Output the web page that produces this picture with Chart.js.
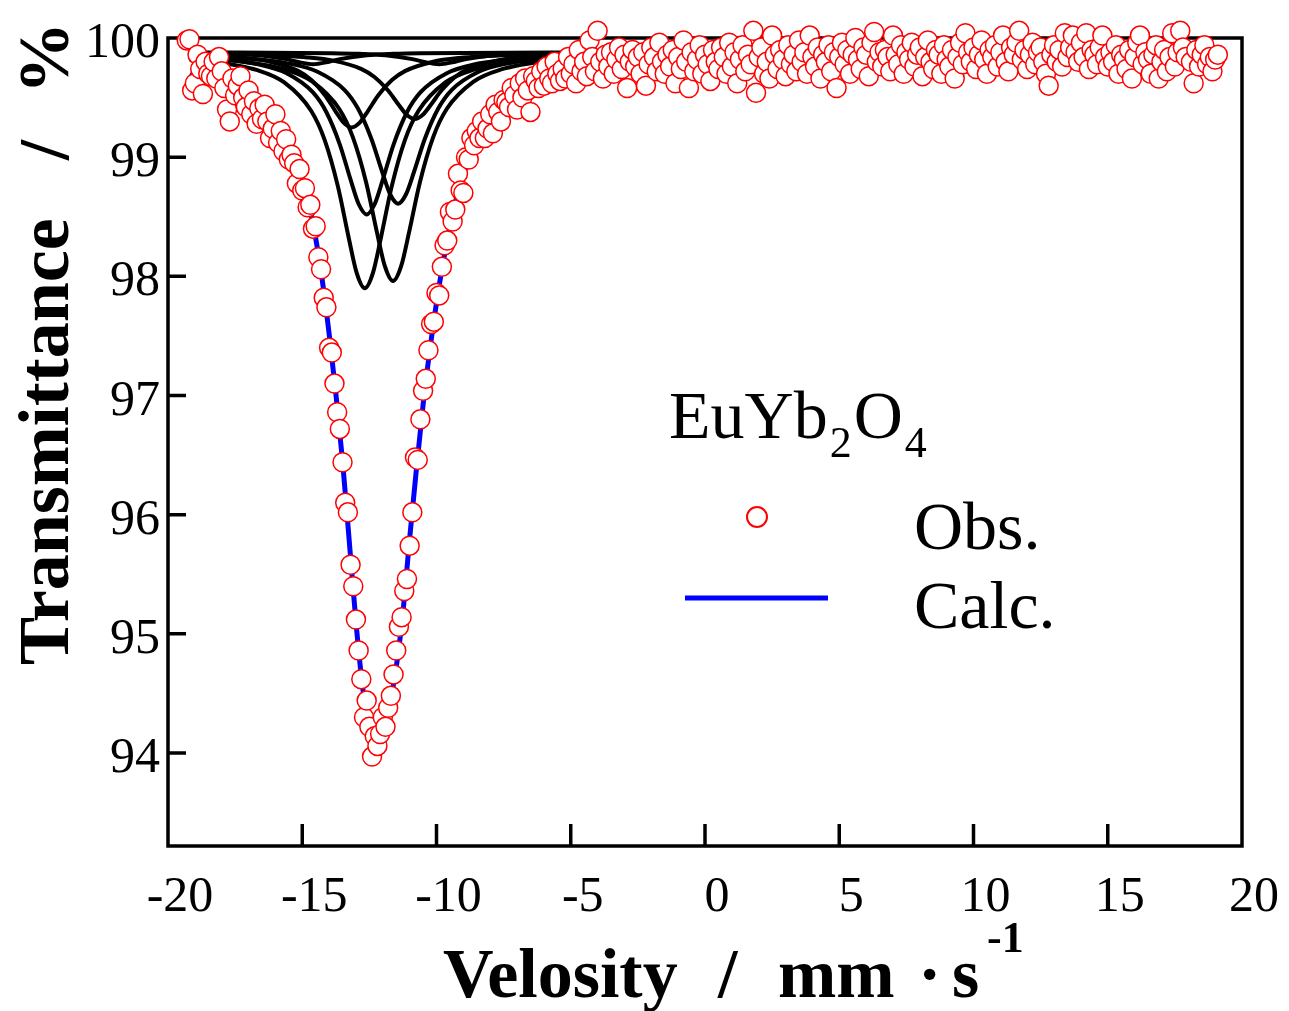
<!DOCTYPE html>
<html>
<head>
<meta charset="utf-8">
<script src="https://cdn.jsdelivr.net/npm/chart.js@4.4.1/dist/chart.umd.min.js"></script>
<style>
html,body{margin:0;padding:0;background:#fff;overflow:hidden;}
#wrap{width:1289px;height:1011px;position:relative;}
</style>
</head>
<body>
<div id="wrap"><canvas id="c"></canvas></div>
<script>
// ---------- tick labels ----------
const xTicks = [-20,-15,-10,-5,0,5,10,15,20];
const yTicks = [94,95,96,97,98,99,100];

// ---------- observed spectrum (velocity mm/s, transmittance %) ----------
const velocity = [
-19.3,-19.2,-19.1,-19.0,-18.9,-18.8,-18.7,-18.6,-18.5,-18.4,
-18.3,-18.2,-18.1,-18.0,-17.9,-17.8,-17.7,-17.6,-17.5,-17.4,
-17.3,-17.2,-17.1,-17.0,-16.9,-16.8,-16.7,-16.6,-16.5,-16.4,
-16.3,-16.2,-16.1,-16.0,-15.9,-15.8,-15.7,-15.6,-15.5,-15.4,
-15.3,-15.2,-15.1,-15.0,-14.9,-14.8,-14.7,-14.6,-14.5,-14.4,
-14.3,-14.2,-14.1,-14.0,-13.9,-13.8,-13.7,-13.6,-13.5,-13.4,
-13.3,-13.2,-13.1,-13.0,-12.9,-12.8,-12.7,-12.6,-12.5,-12.4,
-12.3,-12.2,-12.1,-12.0,-11.9,-11.8,-11.7,-11.6,-11.5,-11.4,
-11.3,-11.2,-11.1,-11.0,-10.9,-10.8,-10.7,-10.6,-10.5,-10.4,
-10.3,-10.2,-10.1,-10.0,-9.9,-9.8,-9.7,-9.6,-9.5,-9.4,
-9.3,-9.2,-9.1,-9.0,-8.9,-8.8,-8.7,-8.6,-8.5,-8.4,
-8.3,-8.2,-8.1,-8.0,-7.9,-7.8,-7.7,-7.6,-7.5,-7.4,
-7.3,-7.2,-7.1,-7.0,-6.9,-6.8,-6.7,-6.6,-6.5,-6.4,
-6.3,-6.2,-6.1,-6.0,-5.9,-5.8,-5.7,-5.6,-5.5,-5.4,
-5.3,-5.2,-5.1,-5.0,-4.9,-4.8,-4.7,-4.6,-4.5,-4.4,
-4.3,-4.2,-4.1,-4.0,-3.9,-3.8,-3.7,-3.6,-3.5,-3.4,
-3.3,-3.2,-3.1,-3.0,-2.9,-2.8,-2.7,-2.6,-2.5,-2.4,
-2.3,-2.2,-2.1,-2.0,-1.9,-1.8,-1.7,-1.6,-1.5,-1.4,
-1.3,-1.2,-1.1,-1.0,-0.9,-0.8,-0.7,-0.6,-0.5,-0.4,
-0.3,-0.2,-0.1,0.0,0.1,0.2,0.3,0.4,0.5,0.6,
0.7,0.8,0.9,1.0,1.1,1.2,1.3,1.4,1.5,1.6,
1.7,1.8,1.9,2.0,2.1,2.2,2.3,2.4,2.5,2.6,
2.7,2.8,2.9,3.0,3.1,3.2,3.3,3.4,3.5,3.6,
3.7,3.8,3.9,4.0,4.1,4.2,4.3,4.4,4.5,4.6,
4.7,4.8,4.9,5.0,5.1,5.2,5.3,5.4,5.5,5.6,
5.7,5.8,5.9,6.0,6.1,6.2,6.3,6.4,6.5,6.6,
6.7,6.8,6.9,7.0,7.1,7.2,7.3,7.4,7.5,7.6,
7.7,7.8,7.9,8.0,8.1,8.2,8.3,8.4,8.5,8.6,
8.7,8.8,8.9,9.0,9.1,9.2,9.3,9.4,9.5,9.6,
9.7,9.8,9.9,10.0,10.1,10.2,10.3,10.4,10.5,10.6,
10.7,10.8,10.9,11.0,11.1,11.2,11.3,11.4,11.5,11.6,
11.7,11.8,11.9,12.0,12.1,12.2,12.3,12.4,12.5,12.6,
12.7,12.8,12.9,13.0,13.1,13.2,13.3,13.4,13.5,13.6,
13.7,13.8,13.9,14.0,14.1,14.2,14.3,14.4,14.5,14.6,
14.7,14.8,14.9,15.0,15.1,15.2,15.3,15.4,15.5,15.6,
15.7,15.8,15.9,16.0,16.1,16.2,16.3,16.4,16.5,16.6,
16.7,16.8,16.9,17.0,17.1,17.2,17.3,17.4,17.5,17.6,
17.7,17.8,17.9,18.0,18.1,18.2,18.3,18.4,18.5,18.6,
18.7,18.8,18.9,19.0,19.1
];
const obsT = [
99.98,99.99,99.56,99.62,99.86,99.74,99.53,99.80,99.70,99.68,
99.80,99.66,99.84,99.72,99.58,99.40,99.30,99.66,99.52,99.60,
99.68,99.50,99.42,99.56,99.36,99.47,99.28,99.41,99.32,99.44,
99.30,99.16,99.24,99.36,99.12,99.22,99.05,99.15,98.98,99.02,
98.95,98.78,98.90,98.72,98.74,98.58,98.60,98.40,98.42,98.16,
98.06,97.82,97.74,97.40,97.36,97.10,96.86,96.72,96.44,96.10,
96.02,95.58,95.40,95.12,94.86,94.62,94.30,94.44,94.22,93.97,
94.14,94.06,94.16,94.30,94.22,94.38,94.48,94.66,94.86,95.06,
95.14,95.36,95.46,95.74,96.02,96.48,96.46,96.80,97.04,97.14,
97.38,97.60,97.62,97.86,97.84,98.08,98.26,98.30,98.54,98.46,
98.56,98.86,98.72,98.70,99.00,98.98,99.16,99.10,99.22,99.16,
99.30,99.16,99.24,99.36,99.20,99.44,99.38,99.30,99.48,99.46,
99.42,99.58,99.52,99.40,99.62,99.50,99.66,99.56,99.38,99.68,
99.64,99.58,99.72,99.60,99.76,99.66,99.62,99.80,99.70,99.64,
99.74,99.66,99.84,99.70,99.78,99.62,99.90,99.72,99.80,99.68,
99.98,99.84,99.72,100.06,99.80,99.66,99.86,99.76,99.88,99.70,
99.82,99.92,99.74,99.86,99.58,99.80,99.90,99.76,99.84,99.70,
99.88,99.60,99.78,99.92,99.84,99.72,99.96,99.80,99.70,99.86,
99.76,99.90,99.62,99.84,99.74,99.98,99.80,99.58,99.88,99.72,
99.82,99.94,99.70,99.86,99.78,99.64,99.90,99.80,99.74,99.92,
99.84,99.70,99.96,99.76,99.88,99.62,99.82,99.94,99.72,99.86,
99.78,100.06,99.54,99.84,99.92,99.70,99.80,99.66,100.02,99.86,
99.74,99.90,99.82,99.68,99.94,99.78,99.86,99.72,99.98,99.80,
99.88,99.70,100.02,99.84,99.76,99.92,99.66,99.86,99.80,99.94,
99.72,99.88,99.58,99.84,99.96,99.78,99.90,99.70,99.86,100.00,
99.82,99.74,99.92,99.86,99.68,99.96,100.05,99.80,99.88,99.76,
99.90,99.84,99.72,100.02,99.86,99.78,99.94,99.70,99.88,99.82,
99.96,99.76,99.86,99.92,99.68,99.84,99.98,99.80,99.74,99.90,
99.86,99.70,99.94,99.82,99.76,99.90,99.66,99.84,99.96,99.78,
100.04,99.88,99.80,99.92,99.74,99.86,99.98,99.82,99.70,99.90,
99.84,99.94,99.76,99.88,100.02,99.80,99.72,99.92,99.86,99.96,
100.06,99.82,99.90,99.74,99.86,99.96,99.78,99.88,99.92,99.80,
99.70,99.60,99.86,99.94,99.80,99.90,99.76,100.04,99.84,99.92,
100.02,99.88,99.80,99.96,99.84,100.04,99.74,99.90,99.86,99.78,
99.92,100.02,99.84,99.76,99.88,99.80,99.94,99.70,99.86,99.82,
99.74,99.90,99.66,99.84,99.96,100.02,99.78,99.88,99.82,99.70,
99.86,99.94,99.66,99.80,99.90,99.72,99.84,100.04,99.76,99.88,
100.06,99.92,99.84,100.10,99.80,99.62,99.90,99.76,99.86,99.94,
99.78,99.84,99.72,99.82,99.86
];

// ---------- calculated total curve ----------
const calcV = [-19.2,-18.5,-18,-17.5,-17,-16.5,-16,-15.5,-15.25,-15,-14.75,-14.5,-14.25,-14,-13.75,-13.5,-13.25,-13,-12.75,-12.5,-12.25,-12,-11.75,-11.5,-11.25,-11,-10.75,-10.5,-10.25,-10,-9.75,-9.5,-9.25,-9,-8.5,-8,-7.5,-7,-6.5,-6,-5,-4,-3,-2,0,3,6,10,14,19.1];
const calcT = [99.69,99.63,99.58,99.52,99.45,99.36,99.24,99.06,98.95,98.80,98.60,98.32,97.96,97.52,97.02,96.45,95.78,95.10,94.55,94.20,94.08,94.18,94.40,94.72,95.18,95.80,96.38,96.92,97.38,97.78,98.12,98.42,98.66,98.86,99.10,99.28,99.42,99.52,99.59,99.64,99.71,99.75,99.78,99.80,99.82,99.84,99.855,99.87,99.875,99.88];

// ---------- sub-spectra (fit components) ----------
const comp1V = [-19.2,-18.67,-16.67,-15.67,-14.67,-14.17,-13.67,-13.27,-12.97,-12.67,-12.37,-12.07,-11.67,-11.17,-10.67,-9.67,-8.67,-6.67,-3.45];
const comp1T = [99.82,99.811,99.73,99.627,99.389,99.147,98.753,98.324,98.027,97.90,98.027,98.324,98.753,99.147,99.389,99.627,99.73,99.811,99.849];
const comp2V = [-19.2,-17.62,-15.62,-14.62,-13.62,-13.12,-12.62,-12.22,-11.92,-11.62,-11.32,-11.02,-10.62,-10.12,-9.62,-8.62,-7.62,-5.62,-3.45];
const comp2T = [99.84,99.813,99.734,99.634,99.404,99.17,98.788,98.371,98.083,97.96,98.083,98.371,98.788,99.17,99.404,99.634,99.734,99.813,99.842];
const comp3V = [-19.2,-18.6,-16.6,-15.6,-14.6,-14.1,-13.6,-13.2,-12.9,-12.6,-12.3,-12.0,-11.6,-11.1,-10.6,-9.6,-8.6,-6.6,-3.45];
const comp3T = [99.842,99.832,99.777,99.706,99.543,99.377,99.106,98.811,98.607,98.52,98.607,98.811,99.106,99.377,99.543,99.706,99.777,99.832,99.859];
const comp4V = [-19.2,-17.43,-15.43,-14.43,-13.43,-12.93,-12.43,-12.03,-11.73,-11.43,-11.13,-10.83,-10.43,-9.93,-9.43,-8.43,-7.43,-5.43,-3.45];
const comp4T = [99.853,99.836,99.783,99.717,99.565,99.41,99.157,98.882,98.691,98.61,98.691,98.882,99.157,99.41,99.565,99.717,99.783,99.836,99.854];
const comp5V = [-19.2,-17.16,-16.16,-15.16,-14.66,-14.16,-13.76,-13.46,-13.16,-12.86,-12.56,-12.16,-11.66,-11.16,-10.16,-9.16,-7.16,-3.45];
const comp5T = [99.858,99.832,99.799,99.724,99.647,99.522,99.385,99.29,99.25,99.29,99.385,99.522,99.647,99.724,99.799,99.832,99.858,99.871];
const comp6V = [-19.2,-16.81,-14.81,-13.81,-12.81,-12.31,-11.81,-11.41,-11.11,-10.81,-10.51,-10.21,-9.81,-9.31,-8.81,-7.81,-6.81,-4.81,-3.45];
const comp6T = [99.869,99.86,99.837,99.808,99.741,99.673,99.561,99.44,99.356,99.32,99.356,99.44,99.561,99.673,99.741,99.808,99.837,99.86,99.866];
const comp7V = [-19.2,-17.6,-16.6,-15.6,-15.2,-14.6,-14.0,-13.6,-12.6,-11.6,-10.6,-3.45];
const comp7T = [99.874,99.867,99.855,99.823,99.801,99.78,99.801,99.823,99.855,99.867,99.872,99.879];
const comp8V = [-19.2,-13.9,-12.9,-11.9,-10.9,-10.5,-9.9,-9.3,-8.9,-7.9,-6.9,-5.9,-3.45];
const comp8T = [99.879,99.872,99.867,99.855,99.823,99.801,99.78,99.801,99.823,99.855,99.867,99.872,99.877];

const components = [[comp1V,comp1T],[comp2V,comp2T],[comp3V,comp3T],[comp4V,comp4T],[comp5V,comp5T],[comp6V,comp6T],[comp7V,comp7T],[comp8V,comp8T]];

const pts = (xs, ys) => xs.map((x, i) => ({x: x, y: ys[i]}));
const SERIF = '"Liberation Serif", "Times New Roman", serif';

const datasets = [
  {
    label: 'Obs.',
    data: pts(velocity, obsT),
    showLine: false,
    pointRadius: 9.5,
    pointBorderWidth: 1.5,
    pointBorderColor: '#ff0000',
    pointBackgroundColor: '#ffffff',
    clip: false,
    order: 0
  },
  {
    label: 'Calc.',
    data: pts(calcV, calcT),
    showLine: true,
    pointRadius: 0,
    borderColor: '#0000ff',
    borderWidth: 5,
    cubicInterpolationMode: 'monotone',
    order: 1
  }
];
components.forEach((c, k) => {
  datasets.push({
    label: 'sub' + (k + 1),
    data: pts(c[0], c[1]),
    showLine: true,
    pointRadius: 0,
    borderColor: '#000000',
    borderWidth: 4,
    cubicInterpolationMode: 'monotone',
    order: 2
  });
});

const decor = {
  id: 'decor',
  beforeDatasetsDraw(chart) {
    const {ctx, chartArea: a, scales} = chart;
    ctx.save();
    ctx.strokeStyle = '#000';
    ctx.lineWidth = 3.5;
    ctx.strokeRect(a.left, a.top, a.right - a.left, a.bottom - a.top);
    ctx.beginPath();
    xTicks.forEach(v => {
      if (v <= scales.x.min || v >= scales.x.max) return;
      const px = scales.x.getPixelForValue(v);
      ctx.moveTo(px, a.bottom);
      ctx.lineTo(px, a.bottom - 22);
    });
    yTicks.forEach(v => {
      if (v <= scales.y.min || v >= scales.y.max) return;
      const py = scales.y.getPixelForValue(v);
      ctx.moveTo(a.left, py);
      ctx.lineTo(a.left + 18, py);
    });
    ctx.stroke();
    ctx.restore();
  },
  afterDraw(chart) {
    const ctx = chart.ctx;
    ctx.save();
    ctx.fillStyle = '#000';
    ctx.textBaseline = 'alphabetic';
    // y axis title
    ctx.save();
    ctx.translate(68, 0);
    ctx.rotate(-Math.PI / 2);
    ctx.font = 'bold 72px ' + SERIF;
    ctx.textAlign = 'left';
    ctx.fillText('Transmittance', -665, 0);
    ctx.textAlign = 'center';
    ctx.fillText('/', -150, 0);
    ctx.fillText('%', -58, 0);
    ctx.restore();
    // x axis title
    ctx.font = 'bold 70px ' + SERIF;
    ctx.textAlign = 'left';
    ctx.fillText('Velosity', 443, 997);
    ctx.fillText('/', 718, 997);
    ctx.fillText('mm', 778, 997);
    ctx.fillText('\u00b7', 918, 997);
    ctx.fillText('s', 952, 997);
    ctx.font = 'bold 44px ' + SERIF;
    ctx.fillText('-1', 987, 952);
    // legend block
    ctx.font = '68px ' + SERIF;
    let x = 669;
    ctx.fillText('EuYb', x, 438); x += ctx.measureText('EuYb').width;
    ctx.font = '44px ' + SERIF;
    ctx.fillText('2', x + 2, 457); x += ctx.measureText('2').width + 4;
    ctx.font = '68px ' + SERIF;
    ctx.fillText('O', x, 438); x += ctx.measureText('O').width;
    ctx.font = '44px ' + SERIF;
    ctx.fillText('4', x + 2, 457);
    ctx.font = '68px ' + SERIF;
    ctx.fillText('Obs.', 914, 549);
    ctx.fillText('Calc.', 914, 628);
    ctx.beginPath();
    ctx.arc(757, 517, 10, 0, Math.PI * 2);
    ctx.fillStyle = '#fff';
    ctx.fill();
    ctx.lineWidth = 2;
    ctx.strokeStyle = '#ff0000';
    ctx.stroke();
    ctx.beginPath();
    ctx.moveTo(685, 598);
    ctx.lineTo(828, 598);
    ctx.lineWidth = 5;
    ctx.strokeStyle = '#0000ff';
    ctx.stroke();
    ctx.restore();
  }
};

new Chart(document.getElementById('c'), {
  type: 'scatter',
  data: {datasets: datasets},
  options: {
    responsive: true,
    maintainAspectRatio: false,
    animation: false,
    layout: {padding: {top: 31, right: 46, left: 0, bottom: 0}},
    plugins: {legend: {display: false}, tooltip: {enabled: false}},
    scales: {
      x: {
        type: 'linear', min: -20, max: 20,
        afterBuildTicks: s => { s.ticks = xTicks.map(v => ({value: v})); },
        afterFit: s => { s.height = 165; },
        grid: {display: false, drawTicks: false},
        border: {display: false},
        ticks: {
          color: '#000', padding: 22, labelOffset: 12, maxRotation: 0, autoSkip: false,
          font: {family: SERIF, size: 50},
          callback: v => String(v)
        }
      },
      y: {
        type: 'linear', min: 93.22, max: 100,
        afterBuildTicks: s => { s.ticks = yTicks.map(v => ({value: v})); },
        afterFit: s => { s.width = 168; },
        grid: {display: false, drawTicks: false},
        border: {display: false},
        ticks: {
          color: '#000', padding: 8, labelOffset: 6, autoSkip: false,
          font: {family: SERIF, size: 50},
          callback: v => String(v)
        }
      }
    }
  },
  plugins: [decor]
});
</script>
</body>
</html>
